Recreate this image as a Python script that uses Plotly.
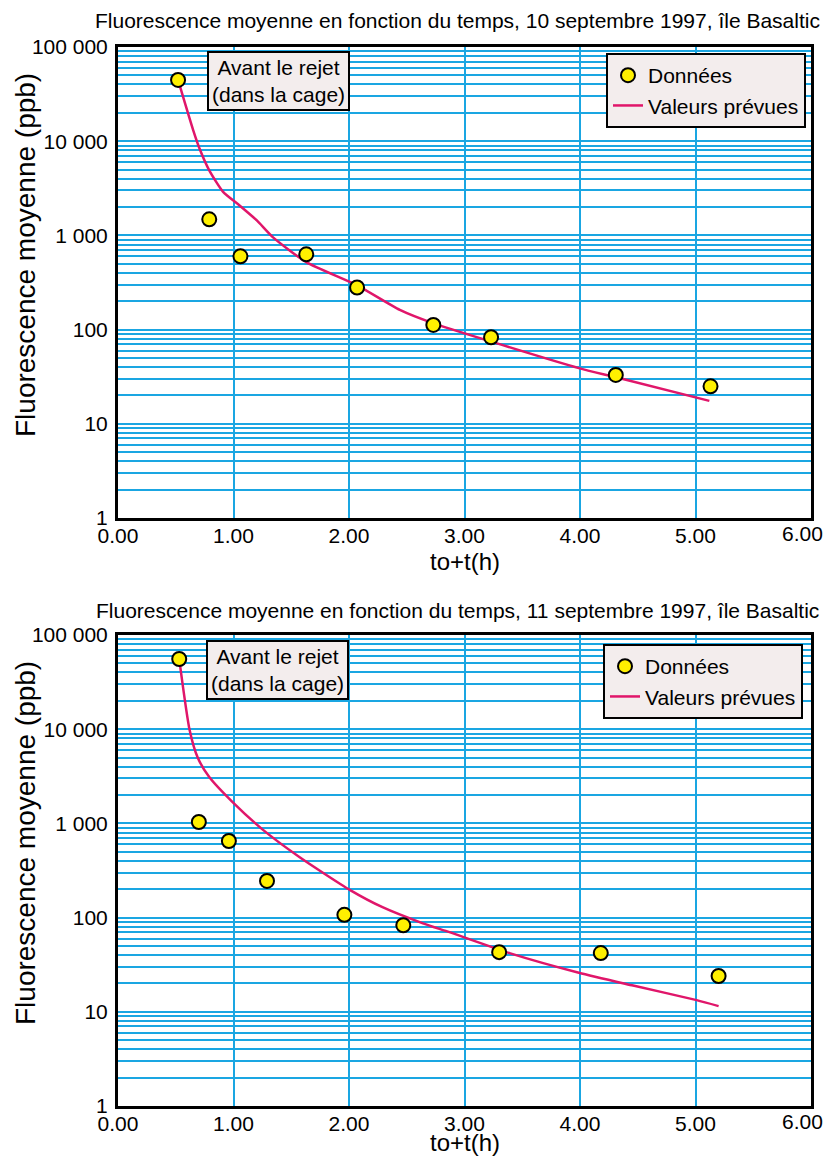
import plotly.graph_objects as go

# ---- data ----
top_data_x = [0.52, 0.79, 1.06, 1.63, 2.07, 2.73, 3.23, 4.31, 5.13]
top_data_y = [44700, 1480, 600, 630, 280, 112, 83, 33, 25]
top_fit_x = [0.52, 0.65, 0.71, 0.79, 0.91, 1.05, 1.20, 1.34, 1.63, 2.07, 2.44, 2.72, 3.24, 3.99, 4.32, 5.12]
top_fit_y = [44700, 13200, 8100, 4900, 2900, 2090, 1450, 960, 520, 295, 162, 118, 74, 39, 31, 17.5]

bot_data_x = [0.53, 0.70, 0.96, 1.29, 1.96, 2.47, 3.30, 4.18, 5.20]
bot_data_y = [55600, 1035, 650, 245, 107, 83, 43, 42, 24]
bot_fit_x = [0.535, 0.62, 0.69, 0.79, 0.99, 1.245, 1.57, 2.01, 2.29, 2.64, 2.87, 3.39, 3.99, 4.46, 5.01, 5.20]
bot_fit_y = [50000, 9800, 5000, 3100, 1690, 875, 440, 196, 129, 87, 70, 42, 26, 19, 13.3, 11.5]

y_tickvals = [1, 10, 100, 1000, 10000, 100000]
y_ticktext = ["1", "10", "100", "1 000", "10 000", "100 000"]
x_tickvals = [0, 1, 2, 3, 4, 5, 6]
x_ticktext = ["0.00", "1.00", "2.00", "3.00", "4.00", "5.00", "6.00"]

titles = [
    "Fluorescence moyenne en fonction du temps, 10 septembre 1997, île Basaltic",
    "Fluorescence moyenne en fonction du temps, 11 septembre 1997, île Basaltic",
]
y_title = "Fluorescence moyenne (ppb)"
x_title = "to+t(h)"
note_text = "Avant le rejet<br>(dans la cage)"
name_data = "Données"
name_fit = "Valeurs prévues"

# ---- style ----
FONT = "Liberation Sans, Arial, Helvetica, sans-serif"
GRID = "#1aa6e2"
LINE = "#e0166a"
YELLOW = "#fff000"
BOXBG = "#f3eded"

minor_vals = [k * 10 ** d for d in range(5) for k in range(2, 10)]

fig = go.Figure()

for i, (dx, dy, fx, fy) in enumerate([
    (top_data_x, top_data_y, top_fit_x, top_fit_y),
    (bot_data_x, bot_data_y, bot_fit_x, bot_fit_y),
]):
    xa = "x" if i == 0 else "x2"
    ya = "y" if i == 0 else "y2"
    lg = "legend" if i == 0 else "legend2"
    fig.add_trace(go.Scatter(
        x=fx, y=fy, mode="lines", name=name_fit, xaxis=xa, yaxis=ya,
        line=dict(color=LINE, width=2.5, shape="spline", smoothing=0.6),
        legend=lg, legendrank=2,
    ))
    fig.add_trace(go.Scatter(
        x=dx, y=dy, mode="markers", name=name_data, xaxis=xa, yaxis=ya,
        marker=dict(color=YELLOW, size=14, line=dict(color="black", width=2)),
        legend=lg, legendrank=1,
    ))

# last x label would overflow the page edge, so it is drawn as an annotation
axis_common_x = dict(
    range=[0, 6], tickmode="array", tickvals=x_tickvals[:-1], ticktext=x_ticktext[:-1],
    showgrid=True, gridcolor=GRID, gridwidth=1.5,
    showline=True, linecolor="black", linewidth=3, mirror=True,
    ticks="", ticklen=0, ticklabelstandoff=-3,
    tickfont=dict(family=FONT, size=21, color="black"), zeroline=False,
)
axis_common_y = dict(
    type="log", range=[0, 5], tickmode="array", tickvals=y_tickvals, ticktext=y_ticktext,
    showgrid=True, gridcolor=GRID, gridwidth=1.5,
    minor=dict(tickmode="array", tickvals=minor_vals, showgrid=True, gridcolor=GRID, gridwidth=1.5, ticks=""),
    showline=True, linecolor="black", linewidth=3, mirror=True,
    ticks="outside", ticklen=3, tickcolor="rgba(0,0,0,0)",
    tickfont=dict(family=FONT, size=21, color="black"), zeroline=False,
)

# The page body has an 8px margin on every side, so the figure is drawn at
# (8, 8) and must be 16px smaller than the window to avoid being rescaled.
OFF = 8
W, H = 833, 1165          # reference picture size
PL, PR, PT, PB = 118, 811, 47, 1106   # plot extents in reference pixels
FW, FH = W - 2 * OFF, H - 2 * OFF
ph = PB - PT
def py(p):
    return (PB - p) / ph
def px(p):
    return (p - PL) / (PR - PL)

fig.update_layout(
    width=FW, height=FH,
    margin=dict(l=PL - OFF, r=(OFF + FW) - PR, t=PT - OFF, b=(OFF + FH) - PB),
    paper_bgcolor="white", plot_bgcolor="white",
    font=dict(family=FONT, color="black"),
    xaxis=dict(axis_common_x, domain=[0, 1], anchor="y"),
    yaxis=dict(axis_common_y, domain=[py(518), 1.0], anchor="x"),
    xaxis2=dict(axis_common_x, domain=[0, 1], anchor="y2"),
    yaxis2=dict(axis_common_y, domain=[0.0, py(635)], anchor="x2"),
    legend=dict(x=px(806), y=py(53), xanchor="right", yanchor="top",
                bgcolor=BOXBG, bordercolor="black", borderwidth=2,
                font=dict(family=FONT, size=21, color="black"), tracegroupgap=0,
                itemwidth=30),
    legend2=dict(x=px(803), y=py(644), xanchor="right", yanchor="top",
                 bgcolor=BOXBG, bordercolor="black", borderwidth=2,
                 font=dict(family=FONT, size=21, color="black"), tracegroupgap=0,
                 itemwidth=30),
    showlegend=True,
)

annots = []
for i, (ty, ny, xy, ycen, bx, tl) in enumerate([
    (8, 81, 576, 255, 278, 533),
    (598, 670, 1157, 843, 277, 1121),
]):
    annots.append(dict(text=titles[i], xref="paper", yref="paper", x=px(457), y=py(ty),
                       xanchor="center", yanchor="top", showarrow=False, borderpad=0,
                       font=dict(family=FONT, size=21, color="black")))
    annots.append(dict(text=note_text, xref="paper", yref="paper", x=px(bx), y=py(ny),
                       xanchor="center", yanchor="middle", showarrow=False, align="center",
                       bgcolor=BOXBG, bordercolor="black", borderwidth=2, borderpad=3,
                       font=dict(family=FONT, size=21, color="black")))
    annots.append(dict(text=x_title, xref="paper", yref="paper", x=px(465), y=py(xy),
                       xanchor="center", yanchor="bottom", showarrow=False, borderpad=0,
                       font=dict(family=FONT, size=24, color="black")))
    annots.append(dict(text=y_title, xref="paper", yref="paper", x=px(25), y=py(ycen),
                       xanchor="center", yanchor="middle", showarrow=False, textangle=-90,
                       borderpad=0, font=dict(family=FONT, size=28, color="black")))
    annots.append(dict(text=x_ticktext[-1], xref="x" if i == 0 else "x2", yref="paper",
                       x=x_tickvals[-1], y=py(tl), xanchor="right", yanchor="middle",
                       xshift=(OFF + FW) - PR - 1, showarrow=False, borderpad=0,
                       font=dict(family=FONT, size=21, color="black")))
fig.update_layout(annotations=annots)

fig.write_html("out.html")
